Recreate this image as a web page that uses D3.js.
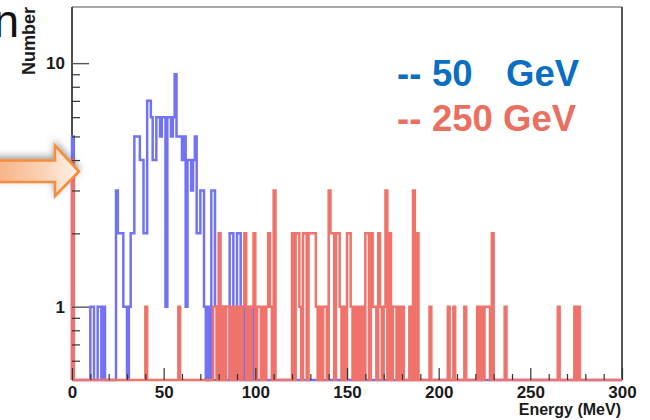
<!DOCTYPE html>
<html>
<head>
<meta charset="utf-8">
<script src="https://cdn.jsdelivr.net/npm/d3@7"></script>
<style>
  html, body { margin: 0; padding: 0; background: #fff; }
  svg { display: block; font-family: "Liberation Sans", Arial, sans-serif; }
</style>
</head>
<body>
<svg id="chart" width="650" height="420"></svg>
<script>
// Deposited energy spectra, 1 MeV bins.
// Each series lists the lower edge (MeV) of every filled bin and its entries;
// all other bins are empty.
const binWidth = 1;
const energyRange = [0, 300];
const countRange = [0.5, 17];

const beam50Edges  = [0, 10, 11, 14, 15, 17,
                      24, 25, 26, 27, 28, 29, 31, 32, 33,
                      34, 35, 36, 37, 38, 39, 40,
                      41, 42, 43, 44, 45, 46, 47, 48, 49, 50, 51, 52, 53, 54, 55,
                      56, 57, 58, 59, 60, 61, 62, 63, 64, 65, 66, 67, 68, 69, 70, 71, 72, 74,
                      76, 77, 78, 80, 82, 83, 86, 87, 90, 91, 93, 98];
const beam50Counts = [5, 1, 1, 1, 1, 1,
                      3, 2, 2, 2, 1, 1, 1, 2, 2,
                      5, 5, 5, 4, 4, 2, 2,
                      7, 7, 6, 4, 4, 6, 6, 5, 6, 6, 1, 6, 6, 5, 6,
                      9, 5, 5, 5, 4, 5, 1, 4, 4, 3, 4, 5, 2, 2, 3, 3, 1, 1,
                      3, 3, 1, 1, 1, 1, 2, 2, 2, 2, 1, 1];

const beam250Edges  = [0, 40, 58,
                       77, 78, 80, 82, 84, 85, 87, 89, 91, 93, 94, 96, 98, 99, 101, 102, 104, 106, 107, 108, 110,
                       120, 122, 123, 124, 126, 127, 129, 130, 131, 132, 133, 135, 137, 138, 140, 141, 142, 144, 145,
                       146, 148, 150, 151, 152, 154, 156, 158, 160, 161, 163, 164, 165, 167, 168, 170, 171, 173,
                       175, 176, 178, 180, 184, 186, 188, 195, 205, 208, 214, 221, 223, 225, 226, 227, 229, 236,
                       265, 274, 276];
const beam250Counts = [4, 1, 1,
                       1, 1, 2, 1, 1, 1, 1, 1, 1, 1, 2, 1, 1, 2, 1, 1, 1, 1, 2, 1, 3,
                       2, 2, 2, 1, 2, 2, 2, 2, 2, 2, 1, 1, 1, 1, 3, 2, 2, 2, 2,
                       1, 1, 2, 2, 1, 1, 1, 1, 2, 2, 2, 1, 1, 2, 1, 1, 3, 2,
                       1, 1, 1, 1, 1, 3, 2, 1, 1, 1, 1, 1, 1, 1, 1, 1, 2, 1,
                       1, 1, 1];

const xTickMajor = [0, 50, 100, 150, 200, 250, 300];
const xTickMinor = [10, 20, 30, 40, 60, 70, 80, 90, 110, 120, 130, 140, 160, 170, 180, 190,
                    210, 220, 230, 240, 260, 270, 280, 290];
const yTickMajor = [1, 10];
const yTickMinor = [0.6, 0.7, 0.8, 0.9, 2, 3, 4, 5, 6, 7, 8, 9];

const legendItems = [
  { energy: "50",  unit: "GeV", color: "#0a6fc2", unitX: 506 },
  { energy: "250", unit: "GeV", color: "#eb6f5e", unitX: 503 }
];
const histColors = ["#7272f4", "#ef736b"];

const svg = d3.select("#chart");
const plot = { left: 72, right: 622, top: 7, bottom: 380 };

const x = d3.scaleLinear().domain(energyRange).range([plot.left, plot.right]);
const y = d3.scaleLog().domain(countRange).range([plot.bottom, plot.top]).clamp(true);

// Expand sparse bin lists into a full set of bins
function fullHistogram(edges, counts) {
  const lookup = new Map(edges.map((e, i) => [e, counts[i]]));
  return d3.range(energyRange[0], energyRange[1], binWidth).map(lo => ({ lo, c: lookup.get(lo) || 0 }));
}

// ---- arrow styling ----
const defs = svg.append("defs");
const grad = defs.append("linearGradient").attr("id", "arrowFill")
  .attr("x1", "0%").attr("x2", "100%").attr("y1", "0%").attr("y2", "0%");
grad.append("stop").attr("offset", "0%").attr("stop-color", "#f7b083");
grad.append("stop").attr("offset", "60%").attr("stop-color", "#fbd3b8");
grad.append("stop").attr("offset", "100%").attr("stop-color", "#fff4ec");
const shadow = defs.append("filter").attr("id", "arrowShadow")
  .attr("x", "-30%").attr("y", "-50%").attr("width", "160%").attr("height", "200%");
shadow.append("feDropShadow").attr("dx", 0).attr("dy", -3).attr("stdDeviation", 3.5)
  .attr("flood-color", "#555").attr("flood-opacity", 0.55);

const arrowPts = [[-6, 160.5], [55, 160.5], [55, 145.5], [79, 171.5], [55, 196], [55, 182], [-6, 182]];

// ---- frame ----
const frame = svg.append("g");
frame.append("line").attr("x1", plot.left).attr("x2", plot.right).attr("y1", plot.top).attr("y2", plot.top)
  .attr("stroke", "#8a8a8a").attr("stroke-width", 1.5);
frame.append("line").attr("x1", plot.right).attr("x2", plot.right).attr("y1", plot.top).attr("y2", plot.bottom)
  .attr("stroke", "#555").attr("stroke-width", 2);
frame.append("line").attr("x1", plot.left).attr("x2", plot.left).attr("y1", plot.top).attr("y2", plot.bottom)
  .attr("stroke", "#222").attr("stroke-width", 1.6);
frame.append("line").attr("x1", plot.left).attr("x2", plot.right).attr("y1", plot.bottom).attr("y2", plot.bottom)
  .attr("stroke", "#222").attr("stroke-width", 1.6);

// ---- histograms (step outlines) ----
const stepLine = d3.line()
  .x(d => x(d.e))
  .y(d => y(Math.max(d.c, countRange[0])))
  .curve(d3.curveStepAfter);

[[beam50Edges, beam50Counts], [beam250Edges, beam250Counts]].forEach(([edges, counts], k) => {
  const bins = fullHistogram(edges, counts);
  const pts = [{ e: energyRange[0], c: 0 }]
    .concat(bins.map(b => ({ e: b.lo, c: b.c })))
    .concat([{ e: energyRange[1], c: 0 }]);
  svg.append("path")
    .attr("d", stepLine(pts))
    .attr("fill", "none")
    .attr("stroke", histColors[k])
    .attr("stroke-width", 2.5)
    .attr("stroke-linejoin", "miter")
    .attr("stroke-linecap", "butt");
});

// ---- axes ----
const tickFont = g => g.selectAll("text")
  .attr("font-size", 17).attr("font-weight", "bold").attr("fill", "#1a1a1a")
  .attr("font-family", "'Liberation Sans', Arial, sans-serif");

svg.append("g").attr("transform", `translate(0,${plot.bottom})`)
  .call(d3.axisBottom(x).tickValues(xTickMinor).tickSize(-6).tickFormat(""))
  .call(g => g.select(".domain").remove())
  .call(g => g.selectAll("line").attr("stroke", "#333").attr("stroke-width", 1.2));

svg.append("g").attr("transform", `translate(0,${plot.bottom})`)
  .call(d3.axisBottom(x).tickValues(xTickMajor).tickSize(-12).tickPadding(6).tickFormat(d3.format("d")))
  .call(g => g.select(".domain").remove())
  .call(g => g.selectAll("line").attr("stroke", "#333").attr("stroke-width", 1.2))
  .call(tickFont);

svg.append("g").attr("transform", `translate(${plot.left},0)`)
  .call(d3.axisLeft(y).tickValues(yTickMinor).tickSize(-8).tickFormat(""))
  .call(g => g.select(".domain").remove())
  .call(g => g.selectAll("line").attr("stroke", "#333").attr("stroke-width", 1.2));

svg.append("g").attr("transform", `translate(${plot.left},0)`)
  .call(d3.axisLeft(y).tickValues(yTickMajor).tickSize(-17).tickPadding(7).tickFormat(d3.format("d")))
  .call(g => g.select(".domain").remove())
  .call(g => g.selectAll("line").attr("stroke", "#555").attr("stroke-width", 1.4))
  .call(tickFont);

// ---- axis titles ----
svg.append("text")
  .attr("x", 621).attr("y", 415)
  .attr("text-anchor", "end")
  .attr("font-size", 16).attr("font-weight", "bold").attr("fill", "#1a1a1a")
  .text("Energy (MeV)");

svg.append("text")
  .attr("transform", "translate(35,7) rotate(-90)")
  .attr("text-anchor", "end")
  .attr("font-size", 18).attr("font-weight", "bold").attr("fill", "#1a1a1a")
  .text("Number");

// ---- legend ----
const legend = svg.append("g");
legendItems.forEach((item, i) => {
  const t = legend.append("text")
    .attr("y", 86 + i * 44.7)
    .attr("font-size", 36.5).attr("font-weight", "bold").attr("fill", item.color);
  t.append("tspan").attr("x", 397).text("--");
  t.append("tspan").attr("x", 432).text(item.energy);
  t.append("tspan").attr("x", item.unitX).text(item.unit);
});

// ---- arrow and clipped heading letter ----
svg.append("polygon")
  .attr("points", arrowPts.map(p => p.join(",")).join(" "))
  .attr("fill", "url(#arrowFill)")
  .attr("stroke", "#f58d3c").attr("stroke-width", 2.6)
  .attr("stroke-linejoin", "miter")
  .attr("filter", "url(#arrowShadow)");

svg.append("text")
  .attr("x", -6.5).attr("y", 37)
  .attr("font-size", 46).attr("fill", "#111")
  .text("n");
</script>
</body>
</html>
